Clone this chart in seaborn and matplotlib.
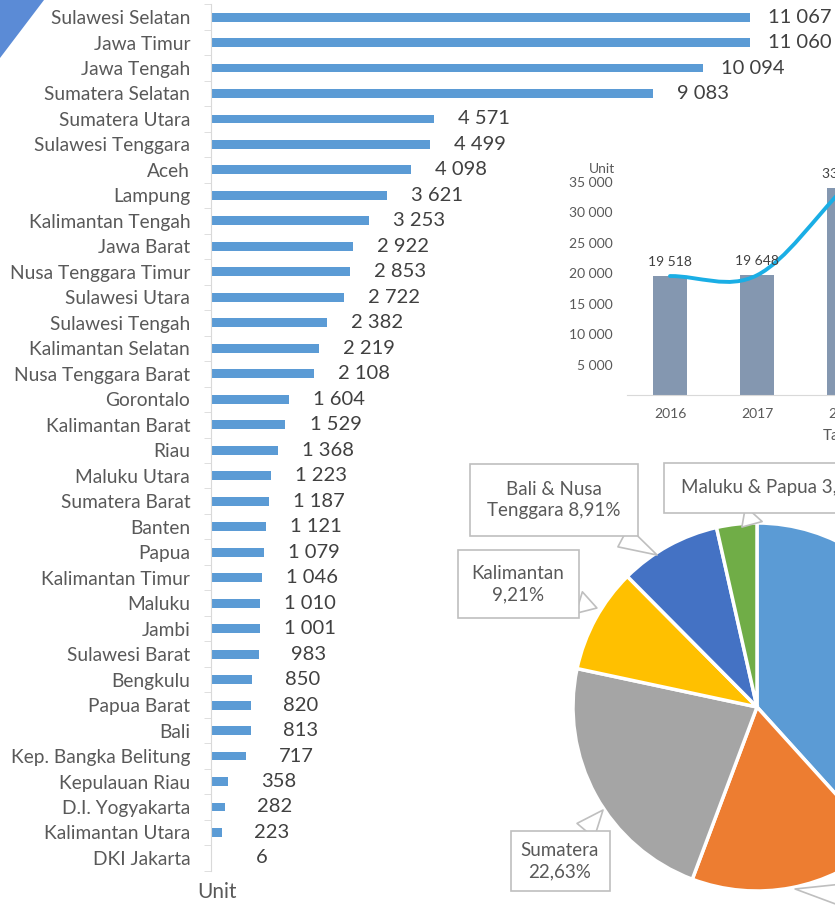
import numpy as np
import matplotlib
matplotlib.use("Agg")
import matplotlib.pyplot as plt
import seaborn as sns
from matplotlib.path import Path
from matplotlib.patches import PathPatch, Polygon

# --- data -------------------------------------------------------------
provinces = ["Sulawesi Selatan", "Jawa Timur", "Jawa Tengah", "Sumatera Selatan",
             "Sumatera Utara", "Sulawesi Tenggara", "Aceh", "Lampung",
             "Kalimantan Tengah", "Jawa Barat", "Nusa Tenggara Timur", "Sulawesi Utara",
             "Sulawesi Tengah", "Kalimantan Selatan", "Nusa Tenggara Barat", "Gorontalo",
             "Kalimantan Barat", "Riau", "Maluku Utara", "Sumatera Barat", "Banten",
             "Papua", "Kalimantan Timur", "Maluku", "Jambi", "Sulawesi Barat",
             "Bengkulu", "Papua Barat", "Bali", "Kep. Bangka Belitung",
             "Kepulauan Riau", "D.I. Yogyakarta", "Kalimantan Utara", "DKI Jakarta"]
units = [11067, 11060, 10094, 9083, 4571, 4499, 4098, 3621, 3253, 2922, 2853, 2722,
         2382, 2219, 2108, 1604, 1529, 1368, 1223, 1187, 1121, 1079, 1046, 1010,
         1001, 983, 850, 820, 813, 717, 358, 282, 223, 6]

years = ["2016", "2017", "2018"]
year_units = [19518, 19648, 33958]

regions = ["Jawa", "Sulawesi", "Sumatera", "Kalimantan", "Bali & Nusa Tenggara",
           "Maluku & Papua"]
region_pct = [38.30, 17.42, 22.63, 9.21, 8.91, 3.53]
region_colors = ["#5B9BD5", "#ED7D31", "#A5A5A5", "#FFC000", "#4472C4", "#70AD47"]


def fmt(v):
    return f"{v:,}".replace(",", " ")


def pct(v):
    return f"{v:.2f}".replace(".", ",") + "%"


sns.set_style("white")
plt.rcParams['font.family'] = ['Lato', 'DejaVu Sans']

W, H = 835, 906
fig = plt.figure(figsize=(W / 100, H / 100), dpi=100)

# decorative corner
fig.patches.append(Polygon([[0, H], [44, H], [0, H - 58]], closed=True,
                           transform=None, fc="#5B8BD6", ec="none"))

# --- main horizontal bar chart ------------------------------------------
px_per_unit = 539 / 11067
ax = fig.add_axes([211 / W, 1 - 870.7 / H, (W - 211) / W, 866.4 / H])
sns.barplot(x=units, y=provinces, orient="h", color="#5B9BD5", saturation=1,
            width=0.35, linewidth=0, ax=ax)
ax.set_xlim(0, (W - 211) / px_per_unit)
ax.set_ylim(len(provinces) - 0.5, -0.5)
for s in ["top", "right", "bottom"]:
    ax.spines[s].set_visible(False)
ax.spines["left"].set_color("#D9D9D9")
ax.set_xticks([])
ax.set_yticks(np.arange(-0.5, len(provinces)), minor=True)
ax.tick_params(axis="y", which="major", length=0, pad=15, labelsize=13.8,
               labelcolor="#595959")
ax.tick_params(axis="y", which="minor", length=5, color="#D9D9D9", left=True)
ax.set_xlabel("")
ax.set_ylabel("")
for i, v in enumerate(units):
    ax.annotate(fmt(v), (v, i), xytext=(50, 0), textcoords="offset pixels",
                ha="center", va="center", fontsize=14.5, color="#404040")
fig.text(217 / W, 1 - 892 / H, "Unit", ha="center", va="center",
         fontsize=15, color="#595959")

# --- inset: yearly totals --------------------------------------------------
axi = fig.add_axes([626.5 / W, 1 - 395 / H, 435 / W, 213.3 / H])
axi.patch.set_alpha(0)
sns.barplot(x=years, y=year_units, color="#8497B0", saturation=1, width=0.39,
            linewidth=0, ax=axi)
axi.set_xlim(-0.5, 4.5)
axi.set_ylim(0, 35000)
axi.set_yticks(np.arange(5000, 35001, 5000))
axi.set_yticklabels([fmt(t) for t in range(5000, 35001, 5000)])
for s in ["top", "right", "left"]:
    axi.spines[s].set_visible(False)
axi.spines["bottom"].set_color("#D9D9D9")
axi.tick_params(length=0, labelsize=10, labelcolor="#595959")
axi.tick_params(axis="y", pad=10)
axi.tick_params(axis="x", pad=9)
axi.set_xlabel("Tahun", fontsize=11, color="#595959", labelpad=7)
axi.set_ylabel("")
axi.text(-0.026, 1.03, "Unit", transform=axi.transAxes, ha="right", va="bottom",
         fontsize=10, color="#595959")
for i, v in enumerate(year_units):
    axi.annotate(fmt(v), (i, v), xytext=(0, 14), textcoords="offset pixels",
                 ha="center", va="center", fontsize=10, color="#404040")

# smoothed line through the bar tops
xs = np.arange(len(year_units), dtype=float)
ys = np.array(year_units, dtype=float)
n = len(xs)
mx = np.gradient(xs)
my = np.gradient(ys)
verts = [(xs[0], ys[0])]
codes = [Path.MOVETO]
for k in range(n - 1):
    verts += [(xs[k] + mx[k] / 3, ys[k] + my[k] / 3),
              (xs[k + 1] - mx[k + 1] / 3, ys[k + 1] - my[k + 1] / 3),
              (xs[k + 1], ys[k + 1])]
    codes += [Path.CURVE4] * 3
axi.add_patch(PathPatch(Path(verts, codes), fill=False, ec="#1AAEE5", lw=2.8,
                        capstyle="round"))

# --- pie -------------------------------------------------------------------
cx, cy, r = 757, 707, 184
axp = fig.add_axes([(cx - r) / W, 1 - (cy + r) / H, 2 * r / W, 2 * r / H])
axp.pie(region_pct, colors=region_colors, startangle=90, counterclock=False,
        wedgeprops=dict(edgecolor="white", linewidth=2.5))
axp.set_xlim(-1, 1)
axp.set_ylim(-1, 1)

labels = [
    ("Jawa " + pct(region_pct[0]), (1.0, 0.3), (1000, 400), "center", 0.9),
    ("Sulawesi " + pct(region_pct[1]), (0.207, -0.989), (930, 0), "center", 0.9),
    ("Sumatera\n" + pct(region_pct[2]), (-0.837, -0.560), (560, H - 861), "center", 0.55),
    ("Kalimantan\n" + pct(region_pct[3]), (-0.870, 0.538), (518, H - 584), "center", 0.75),
    ("Bali & Nusa\nTenggara " + pct(region_pct[4]), (-0.543, 0.826), (554, H - 500), "center", 0.9),
    ("Maluku & Papua " + pct(region_pct[5]), (-0.082, 0.978), (681, H - 488), "left", 0.9),
]
for text, target, pos, ha, pad in labels:
    axp.annotate(text, xy=target, xycoords="data", xytext=pos,
                 textcoords="figure pixels", ha=ha, va="center", fontsize=13.5,
                 color="#595959", linespacing=1.35, annotation_clip=False,
                 bbox=dict(boxstyle=f"square,pad={pad}", fc="white", ec="#BFBFBF", lw=1.2),
                 arrowprops=dict(arrowstyle="wedge,tail_width=1.2", fc="white",
                                 ec="#BFBFBF", lw=1.2, shrinkA=0, shrinkB=0))

fig.savefig("out.png", dpi=100)
